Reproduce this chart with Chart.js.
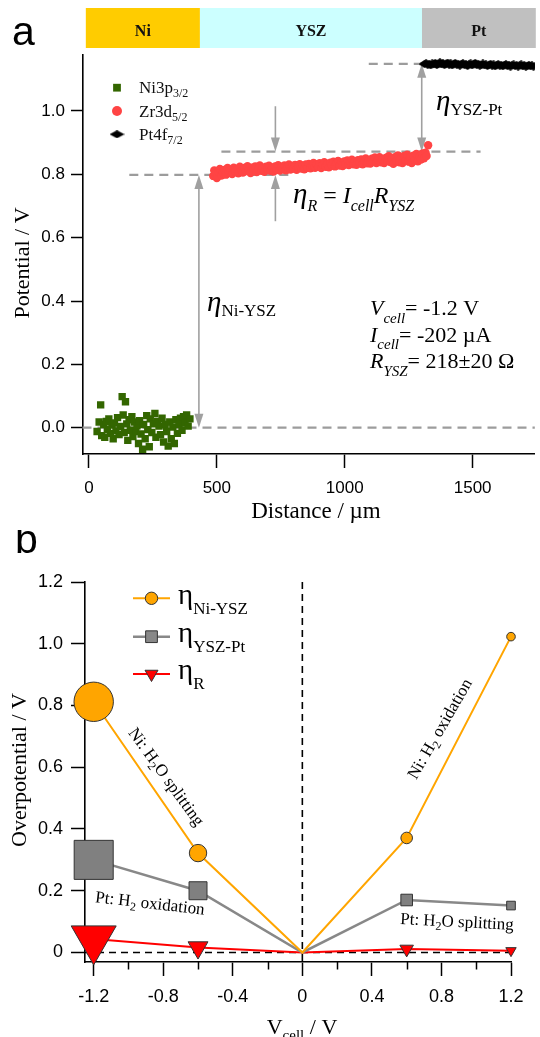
<!DOCTYPE html>
<html>
<head>
<meta charset="utf-8">
<script src="https://cdn.jsdelivr.net/npm/chart.js@4.4.0/dist/chart.umd.min.js"></script>
<style>
  html, body { margin: 0; padding: 0; background: #fff; }
  body { width: 540px; height: 1037px; position: relative; overflow: hidden; }
  canvas { position: absolute; left: 0; }
  #panelA { top: 0; }
  #panelB { top: 530px; }
</style>
</head>
<body>
<canvas id="panelA" width="540" height="530"></canvas>
<canvas id="panelB" width="540" height="507"></canvas>
<script>
// ---------- Panel a: potential profile across the cell (distance in µm, potential in V) ----------
const NI_3P = [
  [32,-0.012],[40,0.018],[46,0.072],[50,-0.025],[58,0.010],[62,-0.030],[68,0.020],[72,-0.005],
  [78,0.028],[84,-0.018],[90,0.008],[95,-0.035],[100,0.015],[106,-0.010],[112,0.032],[118,-0.022],
  [124,0.004],[130,0.098],[134,0.040],[138,-0.015],[143,0.082],[148,0.012],[152,-0.040],[157,0.025],
  [162,-0.008],[168,0.035],[172,-0.028],[178,0.018],[183,-0.012],[188,0.006],[194,-0.050],[198,0.022],
  [204,-0.020],[210,-0.068],[214,0.010],[220,-0.035],[226,0.038],[230,-0.006],[236,-0.060],[240,0.028],
  [246,-0.015],[252,0.012],[258,0.045],[262,-0.030],[268,0.020],[274,0.005],[280,-0.022],[286,0.030],
  [292,-0.045],[298,0.010],[304,-0.012],[310,-0.058],[316,0.018],[322,-0.035],[328,0.002],[334,-0.050],
  [340,0.025],[346,-0.018],[352,0.010],[358,0.030],[364,-0.008],[370,0.035],[376,0.015],[382,0.040],
  [388,0.005],[395,0.028]
];
const ZR_3D = [
  [486,0.795],[490,0.812],[495,0.803],[500,0.788],[506,0.808],[512,0.817],[518,0.796],[524,0.806],
  [530,0.814],[536,0.799],[542,0.820],[548,0.806],[554,0.813],[560,0.801],[566,0.821],[572,0.809],
  [578,0.816],[584,0.803],[590,0.824],[596,0.811],[602,0.806],[608,0.820],[614,0.810],[620,0.826],
  [626,0.812],[632,0.804],[638,0.821],[644,0.813],[650,0.825],[656,0.807],[662,0.816],[668,0.828],
  [674,0.811],[680,0.820],[686,0.808],[692,0.824],[698,0.816],[704,0.827],[710,0.811],[716,0.821],
  [722,0.809],[728,0.825],[734,0.815],[740,0.829],[746,0.812],[752,0.822],[758,0.817],[764,0.828],
  [770,0.813],[776,0.823],[782,0.831],[788,0.815],[794,0.825],[800,0.818],[806,0.830],[812,0.814],
  [818,0.824],[824,0.832],[830,0.818],[836,0.827],[842,0.816],[848,0.831],[854,0.821],[860,0.833],
  [866,0.819],[872,0.828],[878,0.836],[884,0.821],[890,0.831],[896,0.824],[902,0.835],[908,0.820],
  [914,0.830],[920,0.838],[926,0.824],[932,0.833],[938,0.822],[944,0.837],[950,0.828],[956,0.840],
  [962,0.825],[968,0.834],[974,0.842],[980,0.828],[986,0.837],[992,0.826],[998,0.841],[1004,0.832],
  [1010,0.844],[1016,0.829],[1022,0.838],[1028,0.846],[1034,0.832],[1040,0.841],[1046,0.830],[1052,0.845],
  [1058,0.835],[1064,0.847],[1070,0.832],[1076,0.842],[1082,0.850],[1088,0.835],[1094,0.845],[1100,0.834],
  [1106,0.849],[1112,0.839],[1118,0.853],[1124,0.836],[1130,0.846],[1136,0.854],[1142,0.838],[1148,0.848],
  [1154,0.836],[1160,0.852],[1166,0.842],[1172,0.857],[1178,0.839],[1184,0.849],[1190,0.833],[1196,0.854],
  [1202,0.843],[1208,0.860],[1214,0.838],[1220,0.851],[1226,0.836],[1232,0.858],[1238,0.844],[1244,0.862],
  [1250,0.840],[1256,0.853],[1262,0.836],[1268,0.859],[1274,0.845],[1280,0.864],[1286,0.841],[1292,0.856],
  [1298,0.847],[1304,0.866],[1310,0.851],[1316,0.868],[1320,0.858],[1326,0.892]
];
const PT_4F = [
  [1312,1.148],[1318,1.151],[1324,1.146],[1330,1.149],[1336,1.144],[1342,1.150],[1348,1.147],[1354,1.152],
  [1360,1.145],[1366,1.149],[1372,1.154],[1378,1.147],[1384,1.151],[1390,1.145],[1396,1.148],[1402,1.153],
  [1408,1.146],[1414,1.150],[1420,1.144],[1426,1.148],[1432,1.152],[1438,1.146],[1444,1.149],[1450,1.143],
  [1456,1.147],[1462,1.151],[1468,1.145],[1474,1.148],[1480,1.142],[1486,1.147],[1492,1.150],[1498,1.144],
  [1504,1.148],[1510,1.152],[1516,1.145],[1522,1.149],[1528,1.143],[1534,1.146],[1540,1.150],[1546,1.144],
  [1552,1.147],[1558,1.142],[1564,1.146],[1570,1.149],[1576,1.143],[1582,1.147],[1588,1.141],[1594,1.145],
  [1600,1.148],[1606,1.143],[1612,1.146],[1618,1.141],[1624,1.145],[1630,1.148],[1636,1.142],[1642,1.146],
  [1648,1.140],[1654,1.144],[1660,1.147],[1666,1.142],[1672,1.145],[1678,1.140],[1684,1.144],[1690,1.147],
  [1696,1.141],[1702,1.145],[1708,1.140],[1714,1.143],[1720,1.146],[1726,1.141],[1732,1.144],[1738,1.140],
  [1744,1.143]
];
const DIST_TICKS = [0, 500, 1000, 1500];
const POT_TICKS = [0, 0.2, 0.4, 0.6, 0.8, 1.0];
const LAYER_NAMES = ['Ni', 'YSZ', 'Pt'];
const LAYER_EDGES = [-12, 434, 1302, 1743];
const LEGEND_A = [['Ni3p', '3/2'], ['Zr3d', '5/2'], ['Pt4f', '7/2']];

// reference potential levels and the overpotential arrows between them
const REF_LEVELS = [0, 0.798, 0.872, 1.149];
const REF_SPANS = [[-25, 1743], [158, 796], [518, 1531], [1094, 1300]];
const ARROWS = [[430, 0, 0.798, 2], [729, 1.015, 0.872, 1], [729, 0.652, 0.798, 1], [1301, 0.872, 1.149, 2]];

// ---------- Panel b: overpotentials vs cell voltage ----------
const V_CELL = [-1.2, -0.6, 0, 0.6, 1.2];
const ETA_NI_YSZ = [0.812, 0.322, 0, 0.371, 1.023];
const ETA_YSZ_PT = [0.300, 0.200, 0, 0.170, 0.152];
const ETA_R = [0.044, 0.016, 0, 0.011, 0.006];
const VCELL_TICKS = [-1.2, -0.8, -0.4, 0, 0.4, 0.8, 1.2];
const VCELL_MINOR = [-1.0, -0.6, -0.2, 0.2, 0.6, 1.0];
const OVERPOT_TICKS = [0, 0.2, 0.4, 0.6, 0.8, 1.0, 1.2];

const SERIF = '"Liberation Serif","Times New Roman",serif';
const SANS = '"Liberation Sans",Arial,sans-serif';

function T(t, s, o = {}) { return Object.assign({ t, s }, o); }
function fontOf(p) { return `${p.i ? 'italic ' : ''}${p.b ? 'bold ' : ''}${p.s}px ${p.f || SERIF}`; }
function drawRich(ctx, parts, x, y, align = 'left') {
  ctx.textAlign = 'left';
  ctx.textBaseline = 'alphabetic';
  let w = 0;
  parts.forEach(p => { ctx.font = fontOf(p); w += ctx.measureText(p.t).width; });
  let cx = align === 'center' ? x - w / 2 : align === 'right' ? x - w : x;
  parts.forEach(p => {
    ctx.font = fontOf(p);
    ctx.fillText(p.t, cx, y + (p.dy || 0));
    cx += ctx.measureText(p.t).width;
  });
  return w;
}
function rotRich(ctx, parts, cx, cy, deg, dy = 5) {
  ctx.save();
  ctx.translate(cx, cy);
  ctx.rotate(deg * Math.PI / 180);
  drawRich(ctx, parts, 0, dy, 'center');
  ctx.restore();
}

// flattened diamond marker for the Pt 4f points
const diamond = document.createElement('canvas');
diamond.width = 12; diamond.height = 8;
(() => {
  const c = diamond.getContext('2d');
  c.fillStyle = '#000';
  c.beginPath(); c.moveTo(0, 4); c.lineTo(6, 0); c.lineTo(12, 4); c.lineTo(6, 8); c.closePath(); c.fill();
})();
const diamondLegend = document.createElement('canvas');
diamondLegend.width = 15; diamondLegend.height = 8;
(() => {
  const c = diamondLegend.getContext('2d');
  c.fillStyle = '#000';
  c.beginPath(); c.moveTo(0, 4); c.lineTo(7.5, 0); c.lineTo(15, 4); c.lineTo(7.5, 8); c.closePath(); c.fill();
})();

function fixedAxis(size, horizontal) {
  return s => {
    if (horizontal) s.height = size; else s.width = size;
    s.paddingLeft = 0; s.paddingRight = 0; s.paddingTop = 0; s.paddingBottom = 0;
  };
}

function drawArrowHead(ctx, x, yTip, dir) {
  // dir = +1 points down, -1 points up
  ctx.beginPath();
  ctx.moveTo(x, yTip);
  ctx.lineTo(x - 4.5, yTip - dir * 14);
  ctx.lineTo(x + 4.5, yTip - dir * 14);
  ctx.closePath();
  ctx.fill();
}

const panelAOverlay = {
  id: 'panelAOverlay',
  beforeDatasetsDraw(chart) {
    const { ctx, scales: { x, y } } = chart;
    ctx.save();
    ctx.strokeStyle = '#9c9c9c';
    ctx.lineWidth = 2.2;
    ctx.setLineDash([9, 6]);
    REF_LEVELS.forEach((v, i) => {
      const py = y.getPixelForValue(v);
      ctx.beginPath();
      ctx.moveTo(x.getPixelForValue(REF_SPANS[i][0]), py);
      ctx.lineTo(x.getPixelForValue(REF_SPANS[i][1]), py);
      ctx.stroke();
    });
    ctx.setLineDash([]);
    ctx.strokeStyle = '#a0a0a0';
    ctx.fillStyle = '#a0a0a0';
    ctx.lineWidth = 1.6;
    ARROWS.forEach(([xv, from, to, heads]) => {
      const px = x.getPixelForValue(xv);
      const p1 = y.getPixelForValue(from), p2 = y.getPixelForValue(to);
      const dir = p2 > p1 ? 1 : -1;
      ctx.beginPath();
      ctx.moveTo(px, heads === 2 ? p1 + dir * 12 : p1);
      ctx.lineTo(px, p2 - dir * 12);
      ctx.stroke();
      drawArrowHead(ctx, px, p2, dir);
      if (heads === 2) drawArrowHead(ctx, px, p1, -dir);
    });
    ctx.restore();
  },
  afterDraw(chart) {
    const { ctx, scales: { x, y } } = chart;
    ctx.save();
    // layer bar across the top
    const barColors = ['#FFCC00', '#CCFFFF', '#C0C0C0'];
    LAYER_NAMES.forEach((name, i) => {
      const x0 = x.getPixelForValue(LAYER_EDGES[i]);
      const x1 = Math.min(540, x.getPixelForValue(LAYER_EDGES[i + 1]) + (i === 2 ? 1 : 0));
      ctx.fillStyle = barColors[i];
      ctx.fillRect(x0, 8, x1 - x0, 40);
      ctx.fillStyle = '#111';
      drawRich(ctx, [T(name, 16, { b: true })], (x0 + x1) / 2, 35.5, 'center');
    });
    ctx.fillStyle = '#000';
    ctx.font = `41px ${SANS}`;
    ctx.textAlign = 'left';
    ctx.fillText('a', 12, 45);

    // legend
    const lx = 117, rows = [87.7, 111, 134.3];
    const styles = [
      { pointStyle: 'rect', radius: 5.5, color: '#336600' },
      { pointStyle: 'circle', radius: 5, color: '#FF4444' },
      { pointStyle: diamondLegend, radius: 5, color: '#000' }
    ];
    rows.forEach((ry, i) => {
      ctx.fillStyle = styles[i].color;
      Chart.helpers.drawPoint(ctx, { pointStyle: styles[i].pointStyle, radius: styles[i].radius, rotation: 0, borderWidth: 0 }, lx, ry);
      ctx.fillStyle = '#111';
      drawRich(ctx, [T(LEGEND_A[i][0], 17), T(LEGEND_A[i][1], 12, { dy: 4 })], 139, ry + 5.6);
    });

    // overpotential labels
    ctx.fillStyle = '#000';
    drawRich(ctx, [T('η', 29, { i: true }), T('Ni-YSZ', 17, { dy: 5 })], 207, 311);
    drawRich(ctx, [T('η', 29, { i: true }), T('YSZ-Pt', 17, { dy: 5 })], 436, 110);
    drawRich(ctx, [
      T('η', 29, { i: true }), T('R', 16, { i: true, dy: 8 }), T(' = ', 24),
      T('I', 24, { i: true }), T('cell', 16, { i: true, dy: 8 }),
      T('R', 24, { i: true }), T('YSZ', 16, { i: true, dy: 8 })
    ], 293, 202.5);
    drawRich(ctx, [T('V', 22, { i: true }), T('cell', 15, { i: true, dy: 7.5 }), T('= -1.2 V', 22)], 370, 315);
    drawRich(ctx, [T('I', 22, { i: true }), T('cell', 15, { i: true, dy: 7.5 }), T('= -202 µA', 22)], 370, 341.7);
    drawRich(ctx, [T('R', 22, { i: true }), T('YSZ', 15, { i: true, dy: 7.5 }), T('= 218±20 Ω', 22)], 370, 368.3);

    // axis titles
    drawRich(ctx, [T('Distance / µm', 23)], 316, 518, 'center');
    rotRich(ctx, [T('Potential / V', 22)], 22, 263, -90, 7);
    ctx.restore();
  }
};

new Chart(document.getElementById('panelA'), {
  type: 'scatter',
  data: {
    datasets: [
      { label: 'Ni3p3/2', data: NI_3P.map(([x, y]) => ({ x, y })), pointStyle: 'rect', pointRadius: 5.2,
        backgroundColor: '#336600', borderWidth: 0 },
      { label: 'Zr3d5/2', data: ZR_3D.map(([x, y]) => ({ x, y })), pointStyle: 'circle', pointRadius: 4.2,
        backgroundColor: '#FF4444', borderWidth: 0 },
      { label: 'Pt4f7/2', data: PT_4F.map(([x, y]) => ({ x, y })), pointStyle: diamond, pointRadius: 5,
        backgroundColor: '#000', borderWidth: 0 }
    ]
  },
  options: {
    responsive: false,
    animation: false,
    events: [],
    layout: { padding: { top: 55, right: 0, bottom: 0, left: 0 } },
    plugins: { legend: { display: false }, tooltip: { enabled: false } },
    scales: {
      x: {
        type: 'linear', min: -25, max: 1743,
        afterBuildTicks: s => { s.ticks = DIST_TICKS.map(value => ({ value })); },
        afterFit: fixedAxis(76, true),
        grid: { display: true, drawOnChartArea: false, drawTicks: true, tickLength: 14, tickColor: '#000', tickWidth: 1.5 },
        border: { display: true, color: '#000', width: 1.6 },
        ticks: { color: '#000', font: { family: SANS, size: 17 }, padding: 10, maxRotation: 0, autoSkip: false,
                 callback: v => String(v) }
      },
      y: {
        type: 'linear', min: -0.083, max: 1.1768,
        afterBuildTicks: s => { s.ticks = POT_TICKS.map(value => ({ value })); },
        afterFit: fixedAxis(82.5, false),
        grid: { display: true, drawOnChartArea: false, drawTicks: true, tickLength: 11.5, tickColor: '#000', tickWidth: 1.5 },
        border: { display: true, color: '#000', width: 1.6 },
        ticks: { color: '#000', font: { family: SANS, size: 17 }, padding: 6, autoSkip: false,
                 callback: v => v.toFixed(1) }
      }
    }
  },
  plugins: [panelAOverlay]
});

// ---------- Panel b ----------
const ORANGE = '#FFA500', GREY = '#888888', RED = '#FF0000';

const panelBOverlay = {
  id: 'panelBOverlay',
  beforeDatasetsDraw(chart) {
    const { ctx, scales: { x, y } } = chart;
    ctx.save();
    ctx.strokeStyle = '#000';
    ctx.lineWidth = 1.6;
    ctx.setLineDash([7, 5]);
    ctx.beginPath();
    ctx.moveTo(x.getPixelForValue(0), y.getPixelForValue(1.2));
    ctx.lineTo(x.getPixelForValue(0), y.getPixelForValue(y.min));
    ctx.stroke();
    ctx.beginPath();
    ctx.moveTo(x.getPixelForValue(x.min), y.getPixelForValue(0));
    ctx.lineTo(x.getPixelForValue(1.2), y.getPixelForValue(0));
    ctx.stroke();
    ctx.setLineDash([]);
    // minor ticks on the cell-voltage axis
    ctx.lineWidth = 1.5;
    const yb = chart.chartArea.bottom;
    VCELL_MINOR.forEach(v => {
      const px = Math.round(x.getPixelForValue(v)) + 0.5;
      ctx.beginPath(); ctx.moveTo(px, yb); ctx.lineTo(px, yb + 7.5); ctx.stroke();
    });
    ctx.restore();
  },
  afterDraw(chart) {
    const { ctx } = chart;
    ctx.save();
    ctx.fillStyle = '#000';
    ctx.font = `41px ${SANS}`;
    ctx.textAlign = 'left';
    ctx.fillText('b', 15, 23);

    // legend
    const items = [
      { c: ORANGE, style: 'circle', r: 6.2, rot: 0, sub: 'Ni-YSZ', lw: 2 },
      { c: GREY, style: 'rect', r: 8.3, rot: 0, sub: 'YSZ-Pt', lw: 2.5 },
      { c: RED, style: 'triangle', r: 7.5, rot: 180, sub: 'R', lw: 2 }
    ];
    const rows = [68.3, 106.7, 144];
    items.forEach((it, i) => {
      const ry = rows[i];
      ctx.strokeStyle = it.c; ctx.lineWidth = it.lw;
      ctx.beginPath(); ctx.moveTo(133, ry); ctx.lineTo(170, ry); ctx.stroke();
      ctx.fillStyle = it.c; ctx.strokeStyle = '#333'; ctx.lineWidth = 1;
      Chart.helpers.drawPoint(ctx, { pointStyle: it.style, radius: it.r, rotation: it.rot, borderWidth: 1 }, 151.5, ry);
      ctx.fillStyle = '#000';
      drawRich(ctx, [T('η', 29), T(it.sub, 17, { dy: 10 })], 178, ry + 5.4);
    });

    // process labels along the curves
    ctx.fillStyle = '#000';
    rotRich(ctx, [T('Ni: H', 17), T('2', 12, { dy: 4 }), T('O splitting', 17)], 166, 247, 54);
    rotRich(ctx, [T('Pt: H', 17), T('2', 12, { dy: 4 }), T(' oxidation', 17)], 150, 373.5, 6.5);
    rotRich(ctx, [T('Ni: H', 17), T('2', 12, { dy: 4 }), T(' oxidation', 17)], 440, 199, -60);
    rotRich(ctx, [T('Pt: H', 17), T('2', 12, { dy: 4 }), T('O splitting', 17)], 457, 392, 3);

    // axis titles
    rotRich(ctx, [T('Overpotential / V', 22)], 19, 240, -90, 7);
    drawRich(ctx, [T('V', 22), T('cell', 15, { dy: 6 }), T(' / V', 22)], 302, 504, 'center');
    ctx.restore();
  }
};

function series(vals) { return V_CELL.map((x, i) => ({ x, y: vals[i] })); }

new Chart(document.getElementById('panelB'), {
  type: 'scatter',
  data: {
    datasets: [
      { label: 'η Ni-YSZ', data: series(ETA_NI_YSZ), showLine: true, borderColor: ORANGE, borderWidth: 2,
        backgroundColor: ORANGE, pointBackgroundColor: ORANGE, pointBorderColor: '#333', pointBorderWidth: 1,
        pointStyle: 'circle', pointRadius: [19.7, 8.7, 0, 5.8, 4.3], clip: false },
      { label: 'η YSZ-Pt', data: series(ETA_YSZ_PT), showLine: true, borderColor: GREY, borderWidth: 2.5,
        backgroundColor: '#808080', pointBackgroundColor: '#808080', pointBorderColor: '#333', pointBorderWidth: 1,
        pointStyle: 'rect', pointRadius: [27.6, 12.7, 0, 8.2, 6.1], clip: false },
      { label: 'η R', data: series(ETA_R), showLine: true, borderColor: RED, borderWidth: 2,
        backgroundColor: RED, pointBackgroundColor: RED, pointBorderColor: '#333', pointBorderWidth: 1,
        pointStyle: 'triangle', pointRotation: 180, pointRadius: [26, 11.5, 0, 7.8, 6], clip: false }
    ]
  },
  options: {
    responsive: false,
    animation: false,
    events: [],
    layout: { padding: { top: 52, right: 29, bottom: 0, left: 0 } },
    plugins: { legend: { display: false }, tooltip: { enabled: false } },
    scales: {
      x: {
        type: 'linear', min: -1.25, max: 1.2,
        afterBuildTicks: s => { s.ticks = VCELL_TICKS.map(value => ({ value })); },
        afterFit: fixedAxis(75, true),
        grid: { display: true, drawOnChartArea: false, drawTicks: true, tickLength: 14, tickColor: '#000', tickWidth: 1.5 },
        border: { display: true, color: '#000', width: 1.6 },
        ticks: { color: '#000', font: { family: SANS, size: 18 }, padding: 10.5, maxRotation: 0, autoSkip: false,
                 callback: v => (v === 0 ? '0' : String(v)) }
      },
      y: {
        type: 'linear', min: -0.0308, max: 1.2,
        afterBuildTicks: s => { s.ticks = OVERPOT_TICKS.map(value => ({ value })); },
        afterFit: fixedAxis(85, false),
        grid: { display: true, drawOnChartArea: false, drawTicks: true, tickLength: 14, tickColor: '#000', tickWidth: 1.5 },
        border: { display: true, color: '#000', width: 1.6 },
        ticks: { color: '#000', font: { family: SANS, size: 18 }, padding: 8, autoSkip: false,
                 callback: v => (v === 0 ? '0' : v.toFixed(1)) }
      }
    }
  },
  plugins: [panelBOverlay]
});
</script>
</body>
</html>
